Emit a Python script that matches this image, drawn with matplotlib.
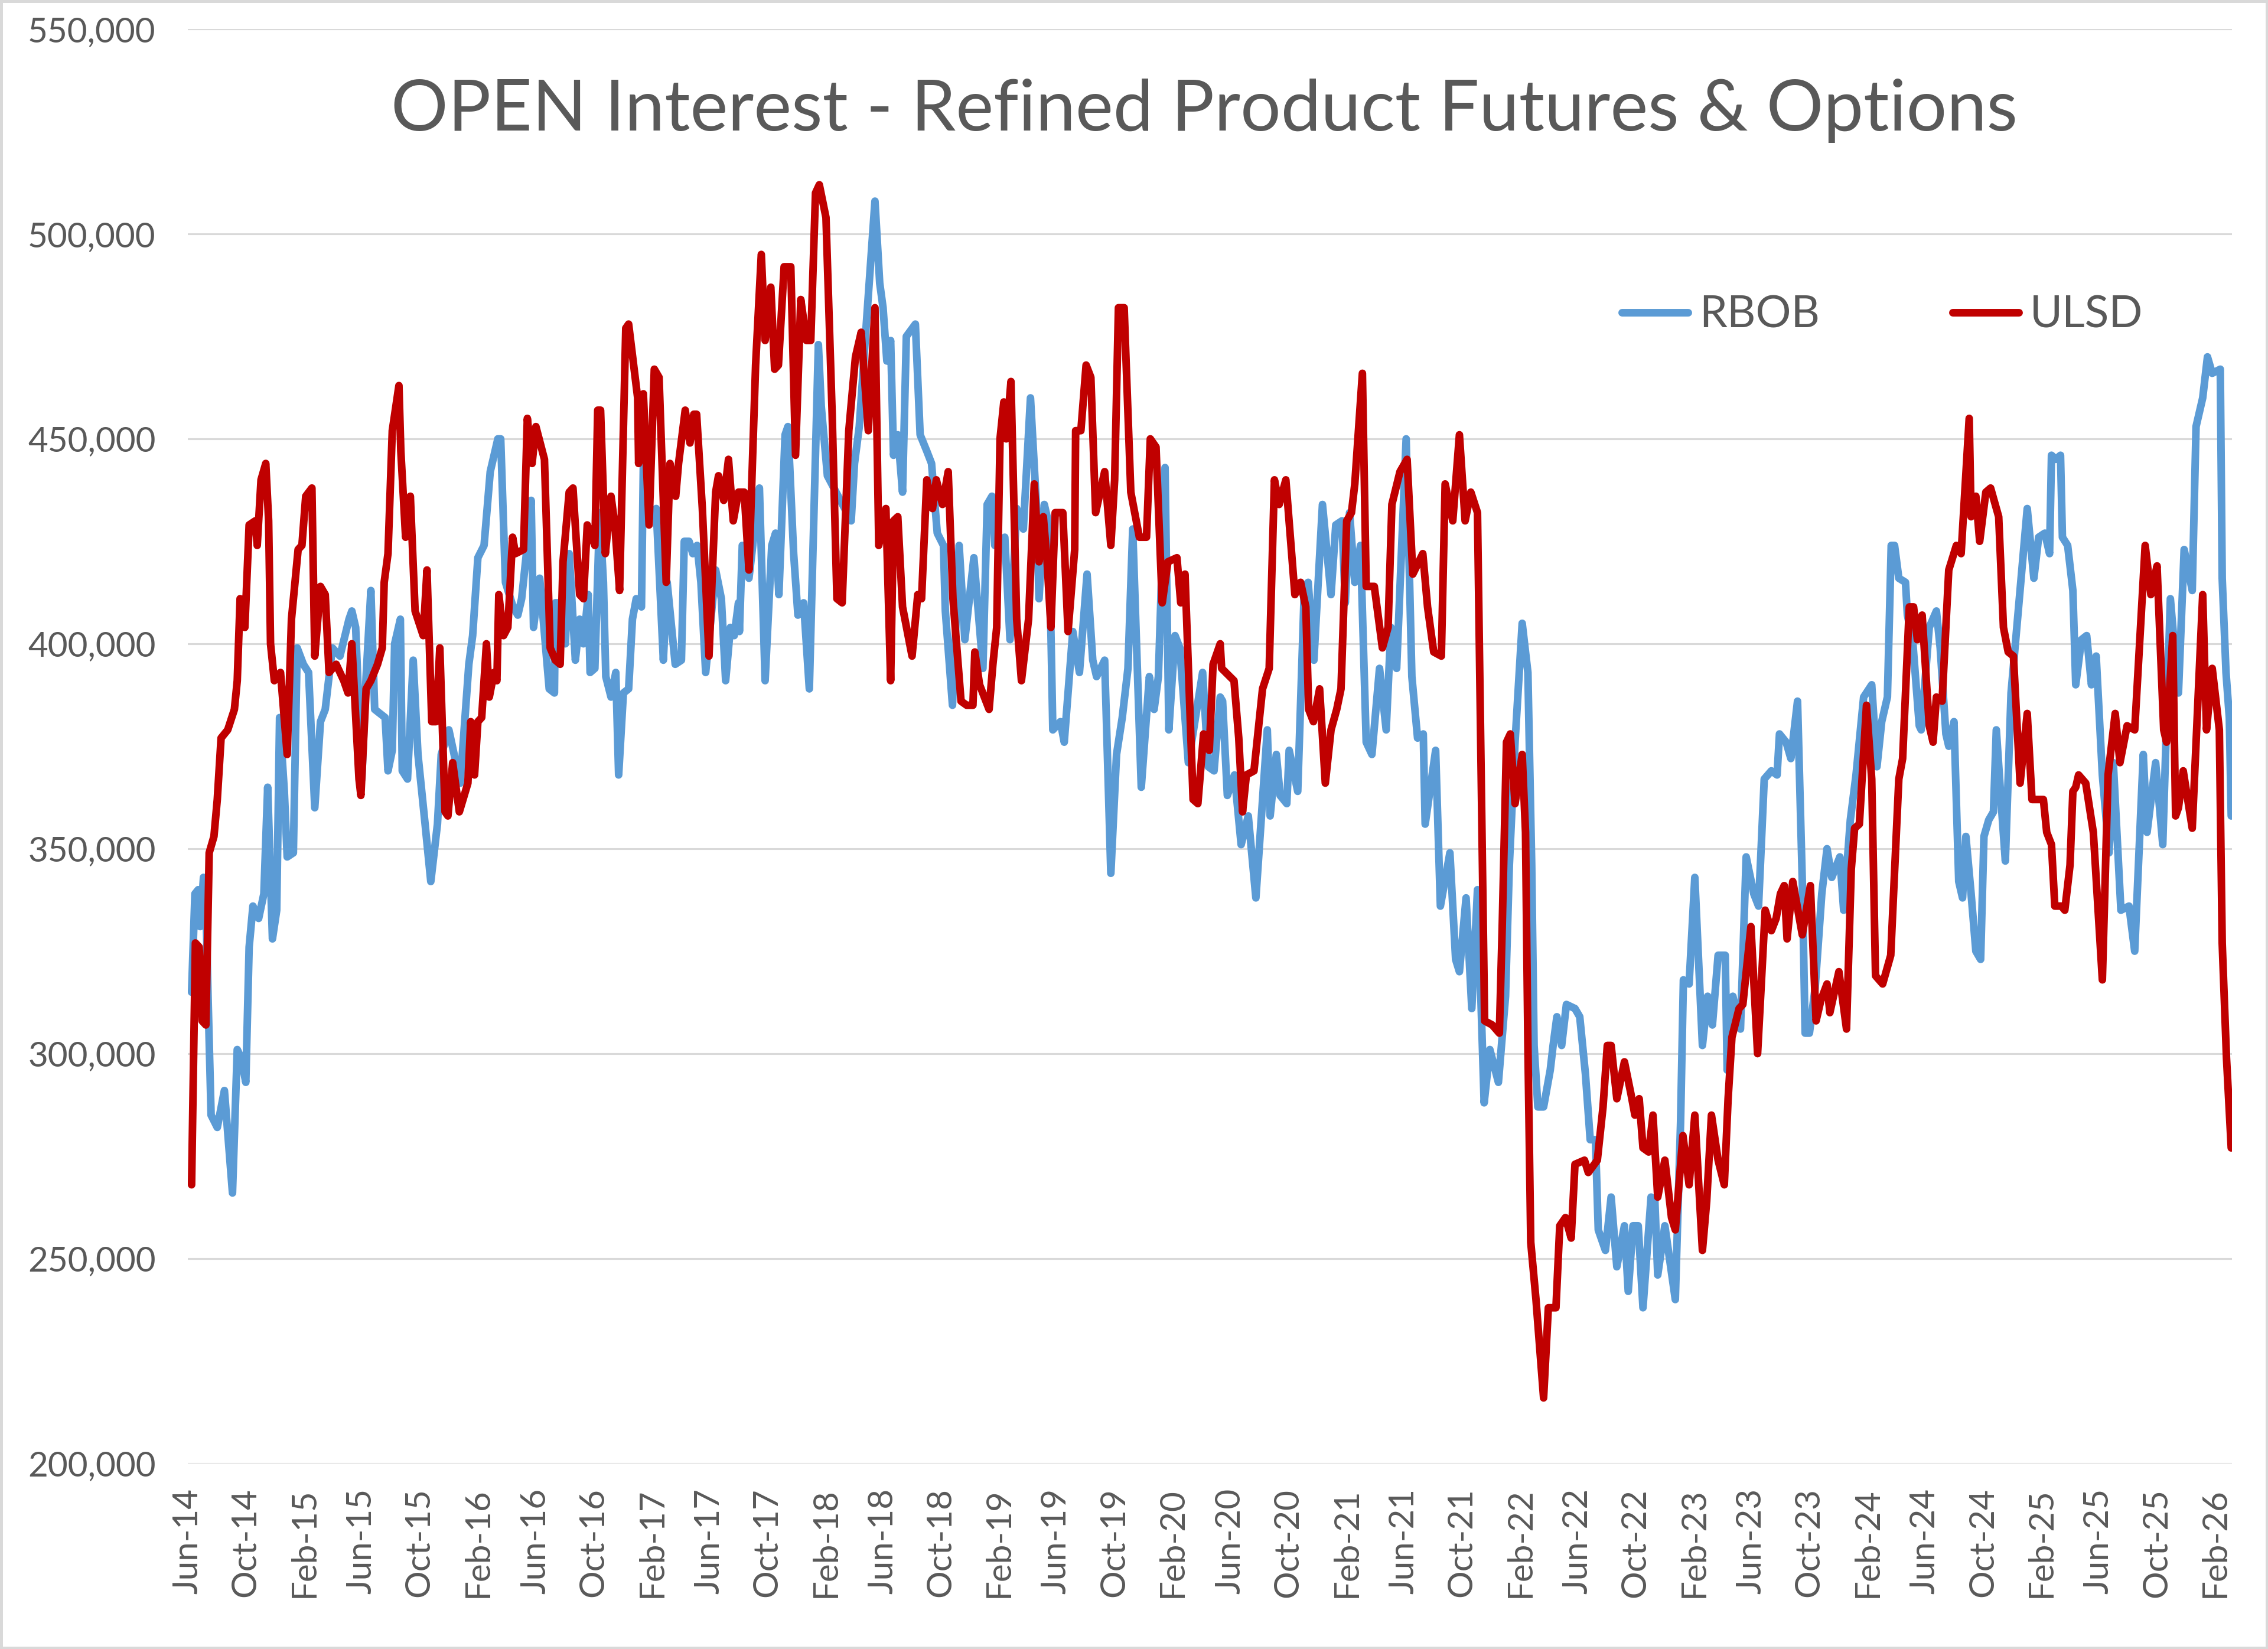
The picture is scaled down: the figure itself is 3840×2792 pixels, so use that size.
import matplotlib
matplotlib.use("Agg")
import matplotlib.pyplot as plt
import pandas as pd
from matplotlib.ticker import FuncFormatter, MultipleLocator
from matplotlib.patches import Rectangle

# ---------------- data ----------------
rbob_dates = [
 "2014-06-09","2014-06-16","2014-06-23","2014-06-27","2014-07-04","2014-07-08","2014-07-14","2014-07-20","2014-08-02","2014-08-17",
 "2014-09-03","2014-09-13","2014-09-21","2014-10-01","2014-10-08","2014-10-16","2014-10-28","2014-11-08","2014-11-16","2014-11-26",
 "2014-12-05","2014-12-11","2014-12-21","2014-12-27","2015-01-09","2015-01-17","2015-01-30","2015-02-10","2015-02-23","2015-03-07",
 "2015-03-17","2015-04-01","2015-04-17","2015-05-06","2015-05-12","2015-05-20","2015-06-02","2015-06-11","2015-06-21","2015-06-29",
 "2015-07-21","2015-07-27","2015-08-05","2015-08-10","2015-08-22","2015-08-26","2015-09-06","2015-09-18","2015-09-28","2015-10-13",
 "2015-10-25","2015-11-08","2015-11-16","2015-12-02","2015-12-26","2016-01-13","2016-01-21","2016-02-01","2016-02-14","2016-02-27",
 "2016-03-14","2016-03-20","2016-03-30","2016-04-15","2016-04-25","2016-05-03","2016-05-13","2016-05-23","2016-05-28","2016-06-10",
 "2016-06-30","2016-07-11","2016-07-13","2016-07-21","2016-08-03","2016-08-11","2016-08-24","2016-09-02","2016-09-10","2016-09-20",
 "2016-09-24","2016-10-04","2016-10-14","2016-10-22","2016-10-27","2016-11-07","2016-11-17","2016-11-23","2016-12-03","2016-12-14",
 "2016-12-22","2016-12-30","2017-01-10","2017-01-14","2017-01-28","2017-02-10","2017-02-25","2017-03-05","2017-03-22","2017-04-04",
 "2017-04-10","2017-04-20","2017-04-28","2017-05-07","2017-05-15","2017-05-25","2017-06-15","2017-06-27","2017-07-06","2017-07-16",
 "2017-07-24","2017-08-02","2017-08-04","2017-08-10","2017-08-24","2017-09-15","2017-09-27","2017-10-11","2017-10-19","2017-10-26",
 "2017-11-08","2017-11-14","2017-11-26","2017-12-05","2017-12-17","2017-12-29","2018-01-17","2018-01-23","2018-02-05","2018-03-27",
 "2018-04-03","2018-04-13","2018-04-29","2018-05-16","2018-05-26","2018-06-02","2018-06-10","2018-06-18","2018-06-24","2018-07-03",
 "2018-07-13","2018-07-21","2018-08-09","2018-08-19","2018-09-02","2018-09-12","2018-09-24","2018-10-07","2018-10-11","2018-10-26",
 "2018-11-09","2018-11-21","2018-12-10","2018-12-29","2019-01-07","2019-01-17","2019-01-23","2019-02-13","2019-02-24","2019-03-10",
 "2019-03-24","2019-04-08","2019-04-20","2019-04-26","2019-05-07","2019-05-13","2019-05-21","2019-05-25","2019-06-10","2019-06-18",
 "2019-07-06","2019-07-20","2019-08-05","2019-08-17","2019-08-25","2019-09-11","2019-09-24","2019-10-06","2019-10-18","2019-10-30",
 "2019-11-09","2019-11-27","2019-12-14","2019-12-24","2020-01-02","2020-01-16","2020-01-24","2020-02-06","2020-02-16","2020-03-05",
 "2020-04-04","2020-04-16","2020-04-28","2020-05-11","2020-05-16","2020-05-26","2020-06-10","2020-06-24","2020-07-09","2020-07-25",
 "2020-08-18","2020-08-24","2020-09-06","2020-09-14","2020-09-28","2020-10-03","2020-10-21","2020-11-04","2020-11-12","2020-11-24",
 "2020-12-12","2020-12-30","2021-01-09","2021-01-22","2021-01-29","2021-02-07","2021-02-18","2021-03-02","2021-03-14","2021-03-26",
 "2021-04-11","2021-04-25","2021-05-05","2021-05-17","2021-06-06","2021-06-18","2021-06-30","2021-07-12","2021-07-16","2021-08-07",
 "2021-08-17","2021-09-06","2021-09-18","2021-09-26","2021-10-10","2021-10-22","2021-11-03","2021-11-17","2021-11-29","2021-12-17",
 "2022-01-01","2022-01-09","2022-01-21","2022-02-05","2022-02-17","2022-02-25","2022-03-02","2022-03-10","2022-03-22","2022-04-05",
 "2022-04-11","2022-04-19","2022-04-29","2022-05-09","2022-05-27","2022-06-06","2022-06-18","2022-06-28","2022-07-09","2022-07-15",
 "2022-07-30","2022-08-11","2022-08-23","2022-09-08","2022-09-16","2022-09-26","2022-10-07","2022-10-17","2022-11-03","2022-11-11",
 "2022-11-17","2022-12-02","2022-12-24","2023-01-04","2023-01-10","2023-01-22","2023-02-03","2023-02-19","2023-03-02","2023-03-12",
 "2023-03-24","2023-04-08","2023-04-12","2023-04-24","2023-05-10","2023-05-22","2023-06-07","2023-06-17","2023-06-29","2023-07-14",
 "2023-07-26","2023-07-31","2023-08-14","2023-08-24","2023-09-07","2023-09-17","2023-09-23","2023-10-02","2023-10-14","2023-10-28",
 "2023-11-08","2023-11-18","2023-12-05","2023-12-13","2023-12-27","2024-01-08","2024-01-24","2024-02-10","2024-02-21","2024-03-02",
 "2024-03-14","2024-03-22","2024-03-29","2024-04-07","2024-04-21","2024-04-25","2024-05-06","2024-05-20","2024-05-24","2024-06-10",
 "2024-06-25","2024-07-03","2024-07-15","2024-07-21","2024-08-01","2024-08-11","2024-08-19","2024-08-26","2024-09-06","2024-09-16",
 "2024-09-26","2024-10-03","2024-10-13","2024-10-23","2024-10-29","2024-11-09","2024-11-17","2024-11-29","2025-01-02","2025-01-16",
 "2025-01-26","2025-02-08","2025-02-18","2025-02-22","2025-03-03","2025-03-13","2025-03-17","2025-03-28","2025-04-08","2025-04-14",
 "2025-04-26","2025-05-07","2025-05-17","2025-05-27","2025-06-09","2025-06-23","2025-07-02","2025-07-18","2025-08-04","2025-08-16",
 "2025-09-03","2025-09-11","2025-09-29","2025-10-14","2025-10-30","2025-11-16","2025-11-28","2025-12-15","2025-12-23","2026-01-06",
 "2026-01-16","2026-01-26","2026-02-12","2026-02-16","2026-02-24","2026-03-03","2026-03-07",
]
rbob_values = [
 315000,339000,340000,331000,343000,342000,312000,285000,282000,291000,
 266000,301000,299000,293000,326000,336000,333000,339000,365000,328000,
 335000,382000,364000,348000,349000,399000,395000,393000,360000,381000,
 384000,399000,397000,406000,408000,404000,367000,392000,413000,384000,
 382000,369000,374000,400000,406000,369000,367000,396000,373000,356000,
 342000,356000,373000,379000,366000,395000,402000,421000,424000,442000,
 450000,450000,415000,409000,407000,411000,422000,435000,404000,416000,
 389000,388000,410000,410000,400000,422000,396000,406000,400000,412000,
 393000,394000,432000,415000,392000,387000,393000,368000,388000,389000,
 406000,411000,409000,444000,431000,433000,396000,415000,395000,396000,
 425000,425000,422000,424000,415000,393000,418000,411000,391000,404000,
 402000,410000,403000,424000,416000,438000,391000,424000,427000,412000,
 451000,453000,422000,407000,410000,389000,473000,458000,441000,430000,
 444000,453000,480000,508000,488000,482000,469000,474000,446000,451000,
 437000,475000,478000,451000,447000,444000,427000,424000,408000,385000,
 424000,401000,421000,394000,434000,436000,424000,426000,401000,433000,
 428000,460000,435000,411000,434000,431000,403000,379000,381000,376000,
 403000,393000,417000,396000,392000,396000,344000,373000,382000,394000,
 428000,365000,392000,384000,392000,443000,379000,402000,399000,371000,
 393000,370000,369000,387000,386000,363000,368000,351000,358000,338000,
 379000,358000,373000,363000,361000,374000,364000,414000,415000,396000,
 434000,412000,429000,430000,410000,432000,415000,424000,376000,373000,
 394000,379000,404000,394000,450000,392000,377000,378000,356000,374000,
 336000,349000,323000,320000,338000,311000,340000,288000,301000,293000,
 314000,346000,376000,405000,393000,346000,302000,287000,287000,296000,
 302000,309000,302000,312000,311000,309000,295000,279000,279000,257000,
 252000,265000,248000,258000,242000,258000,258000,238000,265000,264000,
 246000,258000,240000,283000,318000,317000,343000,302000,314000,307000,
 324000,324000,296000,314000,306000,348000,339000,336000,367000,369000,
 368000,378000,376000,372000,386000,342000,305000,305000,316000,339000,
 350000,343000,348000,335000,357000,368000,387000,390000,370000,381000,
 387000,424000,424000,416000,415000,407000,401000,380000,379000,404000,
 408000,399000,378000,375000,381000,342000,338000,353000,339000,325000,
 323000,353000,357000,359000,379000,360000,347000,388000,433000,416000,
 426000,427000,422000,446000,445000,446000,426000,424000,413000,390000,
 401000,402000,390000,397000,368000,349000,371000,335000,336000,325000,
 373000,354000,371000,351000,411000,388000,423000,413000,453000,460000,
 470000,466000,467000,416000,393000,382000,358000,
]

ulsd_dates = [
 "2014-06-09","2014-06-17","2014-06-25","2014-07-01","2014-07-09","2014-07-16","2014-07-26","2014-08-02","2014-08-10","2014-08-24",
 "2014-09-07","2014-09-13","2014-09-19","2014-09-29","2014-10-08","2014-10-21","2014-10-25","2014-11-02","2014-11-12","2014-11-18",
 "2014-11-22","2014-11-30","2014-12-13","2014-12-27","2015-01-05","2015-01-19","2015-01-27","2015-02-04","2015-02-17","2015-02-23",
 "2015-03-07","2015-03-17","2015-03-25","2015-04-09","2015-04-25","2015-05-04","2015-05-12","2015-05-27","2015-05-31","2015-06-11",
 "2015-06-21","2015-07-05","2015-07-15","2015-07-19","2015-07-27","2015-08-05","2015-08-19","2015-08-23","2015-09-02","2015-09-12",
 "2015-09-22","2015-10-09","2015-10-17","2015-10-27","2015-11-05","2015-11-13","2015-11-24","2015-11-30","2015-12-10","2015-12-24",
 "2016-01-11","2016-01-17","2016-01-25","2016-02-01","2016-02-09","2016-02-19","2016-02-25","2016-03-06","2016-03-12","2016-03-16",
 "2016-03-26","2016-04-04","2016-04-14","2016-04-20","2016-05-07","2016-05-15","2016-05-25","2016-06-02","2016-06-20","2016-07-02",
 "2016-07-13","2016-07-23","2016-07-29","2016-08-11","2016-08-19","2016-09-02","2016-09-10","2016-09-18","2016-10-04","2016-10-10",
 "2016-10-16","2016-10-26","2016-11-07","2016-11-15","2016-11-25","2016-12-08","2016-12-14","2017-01-02","2017-01-04","2017-01-14",
 "2017-01-26","2017-02-06","2017-02-16","2017-03-03","2017-03-11","2017-03-23","2017-03-29","2017-04-12","2017-04-22","2017-04-30",
 "2017-05-06","2017-05-18","2017-06-01","2017-06-15","2017-06-21","2017-07-02","2017-07-12","2017-07-22","2017-08-02","2017-08-14",
 "2017-08-24","2017-09-07","2017-09-19","2017-09-27","2017-10-09","2017-10-17","2017-10-25","2017-11-06","2017-11-20","2017-11-30",
 "2017-12-11","2017-12-23","2018-01-01","2018-01-11","2018-01-19","2018-02-02","2018-02-15","2018-02-25","2018-03-08","2018-03-22",
 "2018-04-05","2018-04-17","2018-05-02","2018-05-16","2018-05-24","2018-06-08","2018-06-18","2018-06-24","2018-07-03","2018-07-13",
 "2018-08-02","2018-08-14","2018-08-22","2018-09-02","2018-09-14","2018-09-22","2018-10-05","2018-10-17","2018-10-27","2018-11-13",
 "2018-11-25","2018-12-08","2018-12-12","2018-12-22","2019-01-11","2019-01-19","2019-01-27","2019-02-03","2019-02-11","2019-02-16",
 "2019-02-26","2019-03-10","2019-03-20","2019-04-04","2019-04-16","2019-04-26","2019-05-05","2019-05-13","2019-05-21","2019-05-30",
 "2019-06-15","2019-06-26","2019-07-10","2019-07-12","2019-07-23","2019-08-03","2019-08-13","2019-08-23","2019-09-11","2019-09-24",
 "2019-10-02","2019-10-10","2019-10-22","2019-11-05","2019-11-23","2019-12-08","2019-12-16","2019-12-28","2020-01-10","2020-01-22",
 "2020-02-10","2020-02-18","2020-02-27","2020-03-15","2020-03-25","2020-04-06","2020-04-18","2020-04-26","2020-05-11","2020-05-14",
 "2020-06-09","2020-06-19","2020-06-27","2020-07-05","2020-07-21","2020-08-08","2020-08-22","2020-09-02","2020-09-12","2020-09-26",
 "2020-10-15","2020-10-27","2020-11-07","2020-11-13","2020-11-23","2020-12-06","2020-12-18","2020-12-30","2021-01-11","2021-01-20",
 "2021-02-01","2021-02-11","2021-02-18","2021-03-06","2021-03-14","2021-03-31","2021-04-17","2021-04-29","2021-05-07","2021-05-24",
 "2021-06-08","2021-06-20","2021-07-11","2021-07-21","2021-08-03","2021-08-19","2021-08-27","2021-09-12","2021-09-26","2021-10-08",
 "2021-10-20","2021-11-03","2021-11-18","2021-12-04","2021-12-19","2021-12-25","2022-01-03","2022-01-11","2022-01-21","2022-02-05",
 "2022-02-12","2022-02-17","2022-02-23","2022-03-06","2022-03-22","2022-04-01","2022-04-17","2022-04-25","2022-05-07","2022-05-19",
 "2022-05-27","2022-06-16","2022-06-24","2022-07-13","2022-07-25","2022-08-03","2022-08-11","2022-08-23","2022-09-08","2022-09-22",
 "2022-09-30","2022-10-09","2022-10-17","2022-10-29","2022-11-07","2022-11-17","2022-12-02","2022-12-16","2022-12-24","2023-01-09",
 "2023-01-22","2023-02-03","2023-02-19","2023-02-28","2023-03-10","2023-03-24","2023-04-06","2023-04-14","2023-04-22","2023-05-07",
 "2023-05-15","2023-06-01","2023-06-15","2023-07-01","2023-07-14","2023-07-24","2023-08-02","2023-08-10","2023-08-16","2023-08-28",
 "2023-09-17","2023-10-04","2023-10-16","2023-10-26","2023-11-08","2023-11-14","2023-12-03","2023-12-19","2023-12-29","2024-01-05",
 "2024-01-15","2024-01-30","2024-02-10","2024-02-18","2024-03-04","2024-03-21","2024-04-07","2024-04-15","2024-04-29","2024-05-08",
 "2024-05-16","2024-05-26","2024-06-10","2024-06-18","2024-06-25","2024-07-07","2024-07-21","2024-08-06","2024-08-16","2024-09-02",
 "2024-09-06","2024-09-16","2024-09-24","2024-10-07","2024-10-17","2024-11-03","2024-11-13","2024-11-23","2024-12-04","2024-12-18",
 "2025-01-02","2025-01-12","2025-02-05","2025-02-12","2025-02-22","2025-03-01","2025-03-15","2025-03-22","2025-04-02","2025-04-08",
 "2025-04-14","2025-04-20","2025-05-05","2025-05-21","2025-06-09","2025-06-21","2025-07-06","2025-07-16","2025-07-31","2025-08-16",
 "2025-09-07","2025-09-19","2025-10-02","2025-10-16","2025-10-22","2025-11-04","2025-11-10","2025-11-16","2025-11-26","2025-12-15",
 "2026-01-06","2026-01-14","2026-01-26","2026-02-10","2026-02-16","2026-02-25","2026-03-07",
]
ulsd_values = [
 268000,327000,326000,308000,307000,349000,353000,362000,377000,379000,
 384000,391000,411000,404000,429000,430000,424000,440000,444000,430000,
 400000,391000,393000,373000,406000,423000,424000,436000,438000,397000,
 414000,412000,393000,395000,391000,388000,400000,367000,363000,389000,
 391000,395000,399000,415000,422000,452000,463000,447000,426000,436000,
 408000,402000,418000,381000,381000,399000,359000,358000,371000,359000,
 366000,381000,368000,381000,382000,400000,387000,393000,391000,412000,
 402000,404000,426000,422000,423000,455000,444000,453000,445000,399000,
 396000,395000,420000,437000,438000,412000,411000,429000,424000,457000,
 457000,422000,436000,429000,413000,477000,478000,460000,444000,461000,
 429000,467000,465000,415000,444000,436000,444000,457000,449000,456000,
 456000,433000,397000,437000,441000,435000,445000,430000,437000,437000,
 418000,468000,495000,474000,487000,467000,468000,492000,492000,446000,
 484000,474000,474000,510000,512000,504000,456000,411000,410000,452000,
 470000,476000,452000,482000,424000,433000,391000,430000,431000,409000,
 397000,412000,411000,440000,433000,440000,434000,442000,411000,386000,
 385000,385000,398000,390000,384000,395000,404000,450000,459000,450000,
 464000,406000,391000,406000,439000,420000,431000,420000,404000,432000,
 432000,403000,423000,452000,452000,468000,465000,432000,442000,424000,
 440000,482000,482000,437000,426000,426000,450000,448000,410000,420000,
 421000,410000,417000,362000,361000,378000,374000,395000,400000,394000,
 391000,377000,359000,368000,369000,389000,394000,440000,434000,440000,
 412000,415000,409000,384000,381000,389000,366000,379000,384000,389000,
 430000,432000,439000,466000,414000,414000,399000,404000,434000,442000,
 445000,417000,422000,409000,398000,397000,439000,430000,451000,430000,
 437000,432000,308000,307000,305000,331000,376000,378000,361000,373000,
 354000,302000,254000,240000,216000,238000,238000,258000,260000,255000,
 273000,274000,271000,274000,287000,302000,302000,289000,298000,290000,
 285000,289000,277000,276000,285000,265000,274000,260000,257000,280000,
 268000,285000,252000,264000,285000,274000,268000,289000,304000,311000,
 312000,331000,300000,335000,330000,333000,339000,341000,328000,342000,
 329000,341000,308000,313000,317000,310000,320000,306000,345000,355000,
 356000,385000,367000,319000,317000,324000,367000,372000,409000,409000,
 401000,407000,380000,376000,387000,386000,418000,424000,422000,455000,
 431000,436000,425000,437000,438000,431000,404000,398000,397000,366000,
 383000,362000,362000,354000,351000,336000,336000,335000,346000,364000,
 365000,368000,366000,354000,318000,368000,383000,371000,380000,379000,
 424000,412000,419000,379000,376000,402000,358000,360000,369000,355000,
 412000,379000,394000,379000,327000,299000,277000,
]

title_text = "OPEN Interest - Refined Product Futures & Options"
series_names = ["RBOB", "ULSD"]
series_colors = ["#5B9BD5", "#C00000"]
tick_dates = pd.date_range("2014-06-01", "2026-02-01", freq="4MS")
tick_labels = [d.strftime("%b-%y") for d in tick_dates]

# ---------------- figure ----------------
plt.rcParams['font.family'] = ['Lato', 'DejaVu Sans']
grey = "#595959"
line_w = 3.1

fig = plt.figure(figsize=(12.8, 9.3067), dpi=300)
ax = fig.add_axes([0.0828, 0.1125, 0.9012, 0.8699])

ax.plot(pd.to_datetime(rbob_dates), rbob_values, color=series_colors[0], lw=line_w,
        solid_joinstyle='round', solid_capstyle='round', label=series_names[0], zorder=3)
ax.plot(pd.to_datetime(ulsd_dates), ulsd_values, color=series_colors[1], lw=line_w,
        solid_joinstyle='round', solid_capstyle='round', label=series_names[1], zorder=4)

ax.set_ylim(200000, 550000)
ax.yaxis.set_major_locator(MultipleLocator(50000))
ax.yaxis.set_major_formatter(FuncFormatter(lambda v, p: f"{int(round(v)):,}"))
ax.set_xlim(pd.Timestamp("2014-06-01"), pd.Timestamp("2026-03-08"))
ax.set_xticks(tick_dates)
ax.set_xticklabels(tick_labels, rotation=90)

ax.grid(axis='y', color='#d9d9d9', lw=0.75, zorder=0)
ax.grid(axis='x', visible=False)
for s in ax.spines.values():
    s.set_visible(False)
ax.tick_params(axis='both', length=0, colors=grey, labelsize=14)
ax.tick_params(axis='y', pad=13)
ax.tick_params(axis='x', pad=10)

fig.text(0.531, 0.933, title_text, ha='center', va='center', fontsize=29, color=grey)

leg = fig.legend(loc='center', bbox_to_anchor=(0.83, 0.809), ncol=2, frameon=False,
                 fontsize=18, handlelength=1.5, handletextpad=0.25, columnspacing=3.0,
                 labelcolor=grey)
for h in leg.get_lines():
    h.set_linewidth(line_w)
    h.set_solid_capstyle('round')

fig.patches.append(Rectangle((0.0005, 0.0007), 0.999, 0.9986, transform=fig.transFigure,
                             fill=False, edgecolor='#d9d9d9', lw=1.2))

fig.savefig("out.png", dpi=300, facecolor='white')
